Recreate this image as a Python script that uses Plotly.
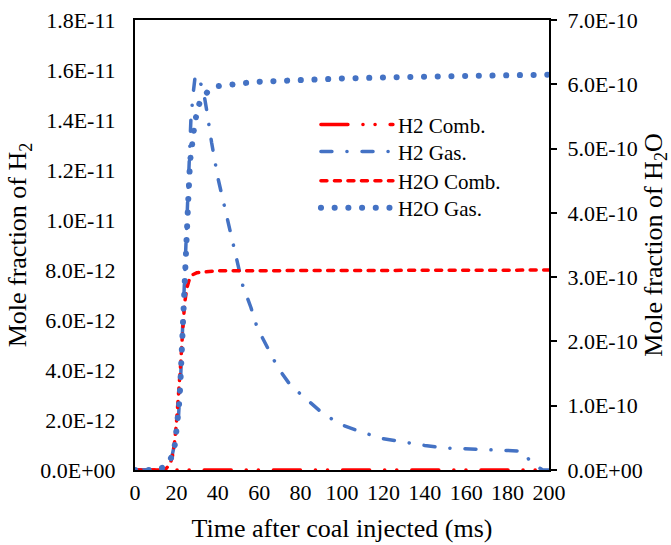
import plotly.graph_objects as go

# ---- data ----
# H2 series on left axis (values in units of 1e-12), H2O on right axis (units of 1e-10)
H2_SCALE = 1e-12
H2O_SCALE = 1e-10

t_h2_comb = [0, 25, 50, 75, 100, 125, 150, 175, 200]
h2_comb = [0, 0, 0, 0, 0, 0, 0, 0, 0]

t_h2_gas = [0, 5, 10, 15, 18, 19, 20, 21, 22, 23, 24, 25, 26, 27, 28, 29, 30, 31, 33, 35,
            37, 40, 45, 50, 52, 56, 59, 64, 69, 75, 83, 91, 100, 110, 120, 130, 140, 150,
            160, 170, 180, 186, 188, 190, 193, 196, 197, 200]
h2_gas = [0, 0, 0, 0.1, 0.6, 1.0, 1.5, 2.1, 3.6, 5.8, 8.0, 10.2, 12.4, 14.0, 15.0, 15.7, 15.8,
          15.6, 15.2, 14.2, 13.1, 11.7, 9.9, 8.2, 7.4, 6.5, 5.7, 4.9, 4.1, 3.4, 2.8, 2.24, 1.8,
          1.5, 1.25, 1.1, 0.98, 0.88, 0.84, 0.8, 0.78, 0.76, 0.7, 0.45, 0.2, 0.03, 0, 0]

t_h2o_comb = [0, 5, 10, 15, 17, 18, 19, 20, 21, 22, 23, 24, 25, 26, 27, 28, 30, 33, 35, 40,
              50, 75, 100, 150, 200]
h2o_comb = [0, 0, 0, 0.02, 0.1, 0.2, 0.4, 0.72, 1.1, 1.62, 2.15, 2.6, 2.82, 2.94, 3.0, 3.04,
            3.07, 3.08, 3.09, 3.1, 3.1, 3.1, 3.11, 3.11, 3.11]

t_h2o_gas = [0, 5, 10, 14.5, 17, 18.3, 19.4, 20, 21, 21.5, 22.1, 22.6, 23.3, 24.2, 25, 25.8,
             26.6, 27.5, 28.7, 29.8, 31.1, 33, 35, 40, 46, 53, 60, 80, 100, 125, 150, 175, 200]
h2o_gas = [0, 0, 0, 0.05, 0.15, 0.23, 0.42, 0.58, 0.83, 1.09, 1.48, 1.92, 2.4, 3.19, 3.6, 4.25,
           4.8, 5.1, 5.35, 5.55, 5.7, 5.8, 5.88, 5.97, 6.0, 6.02, 6.04, 6.07, 6.09, 6.11, 6.12,
           6.14, 6.15]

x_ticks = [0, 20, 40, 60, 80, 100, 120, 140, 160, 180, 200]
y_left_ticks = [0, 2e-12, 4e-12, 6e-12, 8e-12, 1e-11, 1.2e-11, 1.4e-11, 1.6e-11, 1.8e-11]
y_left_labels = ["0.0E+00", "2.0E-12", "4.0E-12", "6.0E-12", "8.0E-12", "1.0E-11",
                 "1.2E-11", "1.4E-11", "1.6E-11", "1.8E-11"]
y_right_ticks = [0, 1e-10, 2e-10, 3e-10, 4e-10, 5e-10, 6e-10, 7e-10]
y_right_labels = ["0.0E+00", "1.0E-10", "2.0E-10", "3.0E-10", "4.0E-10", "5.0E-10",
                  "6.0E-10", "7.0E-10"]

RED = "#FF0000"
BLUE = "#4472C4"
FONT = "Liberation Serif"

# dash patterns are meant for round line caps (set in post_script below)
fig = go.Figure()
fig.add_trace(go.Scatter(x=t_h2_comb, y=[v * H2_SCALE for v in h2_comb], name="H2 Comb.",
                         mode="lines", legend="legend",
                         line=dict(color=RED, width=3.5,
                                   dash="27px,15px,0.1px,12px,0.1px,15px")))
fig.add_trace(go.Scatter(x=t_h2_gas, y=[v * H2_SCALE for v in h2_gas], name="H2 Gas.",
                         mode="lines", legend="legend2",
                         line=dict(color=BLUE, width=3.5, dash="11px,15px,0.1px,15px")))
fig.add_trace(go.Scatter(x=t_h2o_comb, y=[v * H2O_SCALE for v in h2o_comb], name="H2O Comb.",
                         mode="lines", yaxis="y2", legend="legend3",
                         line=dict(color=RED, width=3.5, dash="6px,7.5px")))
fig.add_trace(go.Scatter(x=t_h2o_gas, y=[v * H2O_SCALE for v in h2o_gas], name="H2O Gas.",
                         mode="lines", yaxis="y2", legend="legend4",
                         line=dict(color=BLUE, width=6, dash="0.1px,13.6px")))

axis_common = dict(showgrid=False, zeroline=False, showline=True, linecolor="black",
                   linewidth=2, automargin=False,
                   tickfont=dict(family=FONT, size=22, color="black"))


def leg(y):
    return dict(x=0.437, y=y, xanchor="left", yanchor="middle", bgcolor="rgba(0,0,0,0)",
                font=dict(family=FONT, size=21, color="black"), itemwidth=72)


fig.update_layout(
    width=671, height=545,
    margin=dict(l=135, r=122, t=20, b=75, autoexpand=False),
    paper_bgcolor="white", plot_bgcolor="white",
    font=dict(family=FONT, color="black"),
    showlegend=True,
    legend=leg(0.767), legend2=leg(0.707), legend3=leg(0.642), legend4=leg(0.582),
    xaxis=dict(range=[0, 200], tickvals=x_ticks, ticks="", mirror=True, layer="below traces",
               ticklabelstandoff=2,
               title=dict(text="Time after coal injected (ms)",
                          font=dict(family=FONT, size=26, color="black"), standoff=14),
               **axis_common),
    yaxis=dict(range=[0, 1.8e-11], tickvals=y_left_ticks, ticktext=y_left_labels, ticks="",
               ticklabelstandoff=13, layer="below traces",
               title=dict(text="Mole fraction of H<sub>2</sub>",
                          font=dict(family=FONT, size=26, color="black"), standoff=6),
               **axis_common),
    yaxis2=dict(range=[0, 7e-10], tickvals=y_right_ticks, ticktext=y_right_labels,
                overlaying="y", side="right", ticks="outside", ticklen=6, tickwidth=2,
                tickcolor="black", ticklabelstandoff=6,
                title=dict(text="Mole fraction of H<sub>2</sub>O",
                           font=dict(family=FONT, size=26, color="black"), standoff=2),
                **axis_common),
)

post = (
    "document.body.style.margin='0px';"
    "document.querySelectorAll('path.js-line').forEach(function(p){"
    "p.style.strokeLinecap='round';p.style.strokeLinejoin='round';});"
)
fig.write_html("out.html", post_script=post, config={"displayModeBar": False})
